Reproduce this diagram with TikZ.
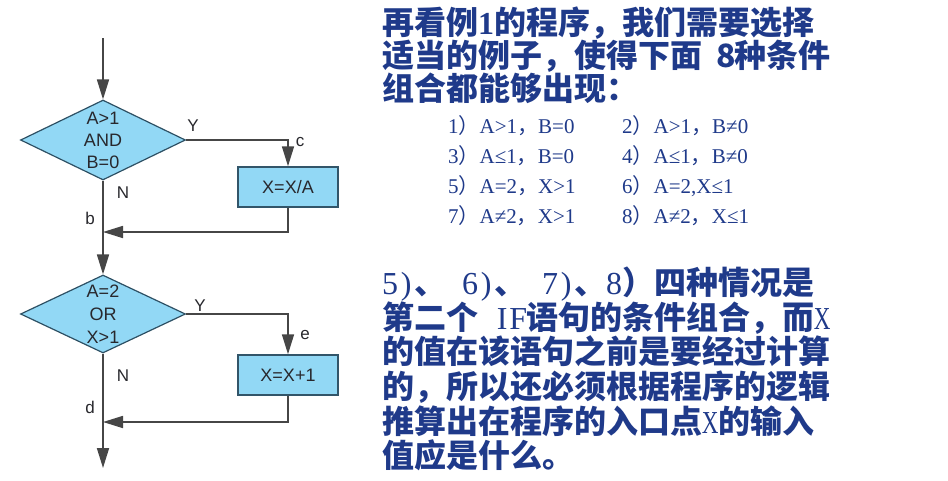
\documentclass[tikz,border=0pt]{standalone}
\usepackage{fontspec}
\usepackage{graphicx}
\usetikzlibrary{shapes.geometric,arrows.meta}
\newfontfamily\cjk{Noto Sans CJK SC}
\newfontfamily\lat{Liberation Serif}
\newfontfamily\flow{Liberation Sans}
\definecolor{navy}{RGB}{31,58,138}
\definecolor{fillblue}{RGB}{146,216,245}
\definecolor{diaborder}{RGB}{45,80,100}
\definecolor{boxborder}{RGB}{50,85,105}
\definecolor{linecol}{RGB}{70,70,70}
\definecolor{flowtext}{RGB}{40,40,45}
\newcommand\hw[1]{\makebox[0.5em][c]{\lat\mdseries #1}}
\newcommand\hb[1]{\makebox[0.5em][c]{\lat\bfseries #1}}
\newcommand\hx{\makebox[0.5em][c]{\scalebox{0.72}[1]{\lat\mdseries X}}}
\newcommand\hc[1]{\makebox[0.5em][c]{#1}}
\newcommand\fw[1]{{\cjk #1}}
\begin{document}
\begin{tikzpicture}[x=1pt,y=-1pt,
  dia/.style={diamond, draw=diaborder, line width=1.2pt, fill=fillblue, inner sep=0pt, minimum width=165pt, minimum height=80pt},
  proc/.style={rectangle, draw=boxborder, line width=1.5pt, fill=fillblue, minimum width=100pt, minimum height=40pt, inner sep=0pt, font=\flow\fontsize{18}{22}\selectfont, text=flowtext},
  dtext/.style={align=center, font=\flow\fontsize{18}{22}\selectfont, text=flowtext, inner sep=0pt},
  lab/.style={font=\flow\fontsize{17}{20}\selectfont, text=flowtext, inner sep=0pt},
  arr/.style={draw=linecol, line width=1.7pt, -{Triangle[length=20pt,width=12pt]}},
  head/.style={anchor=base west, inner sep=0pt, text=navy, font=\cjk\bfseries\fontsize{32}{34}\selectfont},
  item/.style={anchor=base west, inner sep=0pt, text=navy, font=\lat\fontsize{21}{24}\selectfont}
]
\useasboundingbox (0,0) rectangle (948,480);
\fill[white] (0,0) rectangle (948,480);

% flowchart
\coordinate (top) at (103,38);
\node[dia] (d1) at (103,140) {};
\node[dtext] (t1) at (d1) {A>1\\AND\\B=0};
\node[proc] (b1) at (288,187) {X=X/A};
\coordinate (m1) at (103,232);
\node[dia, minimum height=78pt] (d2) at (103,314) {};
\node[dtext, font=\flow\fontsize{18}{23}\selectfont] (t2) at (d2) {A=2\\OR\\X>1};
\node[proc] (b2) at (288,375) {X=X+1};
\coordinate (m2) at (103,422);
\coordinate (end) at (103,468);

\draw[arr] (top) -- (d1.north);
\draw[arr] (d1.east) -| (b1.north);
\draw[arr] (b1.south) |- (m1);
\draw[arr] (d1.south) -- (d2.north);
\draw[arr] (d2.east) -| (b2.north);
\draw[arr] (b2.south) |- (m2);
\draw[arr] (d2.south) -- (end);

\node[lab] (y1) at (193,126) {Y};
\node[lab] (c1) at (300,142) {c};
\node[lab] (n1) at (123,193) {N};
\node[lab] (bl) at (90,218) {b};
\node[lab] (y2) at (200,306) {Y};
\node[lab] (e1) at (305,335) {e};
\node[lab] (n2) at (123,376) {N};
\node[lab] (dl) at (90,407) {d};

% heading
\node[head] (h1) at (382,34) {再看例\hb{1}的程序，我们需要选择};
\node[head] (h2) at (382,67) {适当的例子，使得下面\hspace{0.5em}\hc{8}种条件};
\node[head] (h3) at (382,100) {组合都能够出现：};

% list
\node[item] (l1) at (448,133) {1\fw{）}A>1\fw{，}B=0};
\node[item] (l2) at (622,133) {2\fw{）}A>1\fw{，}B≠0};
\node[item] (l3) at (448,163) {3\fw{）}A≤1\fw{，}B=0};
\node[item] (l4) at (622,163) {4\fw{）}A≤1\fw{，}B≠0};
\node[item] (l5) at (448,193) {5\fw{）}A=2\fw{，}X>1};
\node[item] (l6) at (622,193) {6\fw{）}A=2,X≤1};
\node[item] (l7) at (448,223) {7\fw{）}A≠2\fw{，}X>1};
\node[item] (l8) at (622,223) {8\fw{）}A≠2\fw{，}X≤1};

% paragraph
\node[head] (p1) at (382,294) {\hw{5}\hw{)}、\hspace{0.5em}\hw{6}\hw{)}、\hspace{0.5em}\hw{7}\hw{)}、\hw{8}）四种情况是};
\node[head] (p2) at (382,329) {第二个\hspace{0.5em}\hw{I}\hw{F}语句的条件组合，而\hx};
\node[head] (p3) at (382,363) {的值在该语句之前是要经过计算};
\node[head] (p4) at (382,398) {的，所以还必须根据程序的逻辑};
\node[head] (p5) at (382,433) {推算出在程序的入口点\hx 的输入};
\node[head] (p6) at (382,467) {值应是什么。};
\end{tikzpicture}
\end{document}
